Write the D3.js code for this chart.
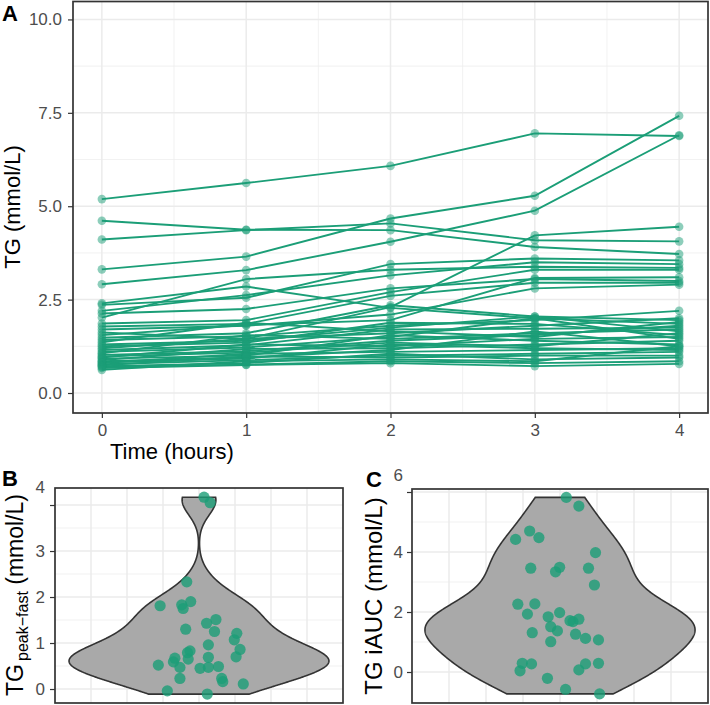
<!DOCTYPE html>
<html><head><meta charset="utf-8">
<script src="https://cdn.jsdelivr.net/npm/d3@7"></script>
<style>body{margin:0;background:#fff} text{font-family:"Liberation Sans",Arial,Helvetica,sans-serif}</style>
</head><body><svg id="c" width="710" height="705"></svg>
<script>
// ---------- data ----------
const times = [0, 1, 2, 3, 4];
const tgSubjects = [
  [5.19, 5.62, 6.08, 6.95, 6.88],
  [4.61, 4.37, 4.36, 3.91, 3.72],
  [4.11, 4.36, 4.54, 4.09, 4.06],
  [3.31, 3.65, 4.67, 5.28, 7.42],
  [2.91, 3.29, 4.05, 4.88, 6.90],
  [2.40, 2.85, 2.28, 2.00, 1.85],
  [2.36, 2.55, 3.45, 3.60, 3.55],
  [2.20, 2.62, 3.15, 3.50, 3.45],
  [2.13, 2.25, 2.80, 3.05, 3.00],
  [2.02, 3.05, 3.30, 3.38, 3.35],
  [1.86, 1.95, 2.70, 3.30, 3.30],
  [1.78, 1.85, 2.60, 2.95, 2.95],
  [1.70, 1.80, 2.10, 2.80, 2.90],
  [1.62, 1.45, 2.30, 4.22, 4.45],
  [1.55, 1.82, 1.95, 3.08, 3.10],
  [1.48, 1.60, 2.35, 2.05, 1.65],
  [1.42, 1.52, 1.80, 1.95, 2.20],
  [1.36, 1.88, 1.65, 1.50, 1.90],
  [1.30, 1.40, 1.75, 2.05, 1.95],
  [1.25, 1.35, 1.88, 1.85, 1.55],
  [1.20, 1.45, 1.60, 1.80, 2.00],
  [1.15, 1.28, 1.70, 1.72, 1.75],
  [1.10, 1.22, 1.50, 2.00, 1.45],
  [1.06, 1.55, 1.45, 1.60, 1.70],
  [1.02, 1.12, 1.40, 1.55, 1.80],
  [0.98, 1.08, 1.35, 1.25, 1.60],
  [0.95, 1.30, 1.25, 1.45, 1.50],
  [0.92, 1.00, 1.55, 1.40, 1.30],
  [0.88, 1.18, 1.20, 1.30, 1.40],
  [0.85, 0.95, 1.15, 1.65, 1.25],
  [0.82, 0.92, 1.30, 1.20, 1.15],
  [0.80, 1.05, 1.10, 1.15, 1.20],
  [0.77, 0.88, 1.00, 1.05, 1.10],
  [0.74, 0.98, 0.95, 1.00, 1.00],
  [0.72, 0.80, 1.05, 0.90, 0.95],
  [0.70, 0.76, 0.85, 0.80, 0.85],
  [0.67, 0.75, 0.80, 0.72, 0.78],
  [0.62, 0.85, 0.90, 0.85, 1.25]
];
const tgTicks = [0, 2.5, 5, 7.5, 10];
const tgMinor = [1.25, 3.75, 6.25, 8.75];
const timeMinor = [0.5, 1.5, 2.5, 3.5];

const peakFast = [4.17, 4.05, 2.33, 1.81, 1.83, 1.90, 1.75, 1.30, 1.43, 1.51, 1.25, 1.21, 1.07, 0.86, 0.70, 0.96, 0.69,
  0.83, 0.79, 0.65, 0.67, 0.59, 0.47, 0.52, 0.45, 0.47, 0.49, 0.23, 0.16, 0.23, 0.11, -0.04, -0.11];
const peakFastJitter = [0.14, 0.31, -0.34, -1.08, -0.48, -0.23, -0.44, -0.37, 0.21, 0.47, 0.43, 1.05, 0.98, 1.14, 1.03, 0.26, 0.26,
  -0.25, -0.32, -0.30, -0.67, -0.71, -0.53, -1.13, 0.03, 0.26, 0.54, 0.63, 0.66, -0.53, 1.23, -0.88, 0.23];
const peakTicks = [0, 1, 2, 3, 4];
const peakMinor = [0.5, 1.5, 2.5, 3.5];

const iauc = [5.82, 5.53, 4.42, 4.70, 4.48, 3.98, 3.46, 3.34, 3.49, 3.46, 2.90, 2.26, 1.93, 2.27, 1.84, 1.98, 1.51, 1.37,
  1.68, 1.76, 1.26, 1.12, 1.07, 1.31, 1.01, 0.29, 0.04, 0.27, 0.07, 0.27, 0.29, -0.21, -0.58, -0.73, 1.71];
const iaucJitter = [0.17, 0.51, -1.20, -0.82, -0.57, 0.96, -0.79, -0.12, -0.01, 0.77, 0.93, -1.14, -0.88, -0.68, -0.32, -0.01,
  -0.25, -0.07, 0.35, 0.51, 0.42, 0.69, 1.04, -0.75, -0.25, -1.02, -1.08, -0.77, 0.51, 0.69, 1.04, -0.34, 0.15, 1.07, 0.27];
const iaucTicks = [0, 2, 4, 6];
const iaucMinor = [1, 3, 5];
const catGrid = [-3, -2, -1, 0, 1, 2, 3];

// ---------- helpers ----------
const GREEN = "#1b9e77";
const svg = d3.select("#c");
svg.append("rect").attr("width", 710).attr("height", 705).attr("fill", "#fff");

function grid(g, xs, ys, xMaj, xMin, yMaj, yMin) {
  const [x0, x1] = xs.range(), [y0, y1] = ys.range();
  g.selectAll(null).data(yMin).enter().append("line")
    .attr("x1", x0).attr("x2", x1).attr("y1", d => ys(d)).attr("y2", d => ys(d))
    .attr("stroke", "#ededed").attr("stroke-width", 0.8);
  g.selectAll(null).data(xMin).enter().append("line")
    .attr("y1", y0).attr("y2", y1).attr("x1", d => xs(d)).attr("x2", d => xs(d))
    .attr("stroke", "#ededed").attr("stroke-width", 0.8);
  g.selectAll(null).data(yMaj).enter().append("line")
    .attr("x1", x0).attr("x2", x1).attr("y1", d => ys(d)).attr("y2", d => ys(d))
    .attr("stroke", "#ebebeb").attr("stroke-width", 1.5);
  g.selectAll(null).data(xMaj).enter().append("line")
    .attr("y1", y0).attr("y2", y1).attr("x1", d => xs(d)).attr("x2", d => xs(d))
    .attr("stroke", "#ebebeb").attr("stroke-width", 1.5);
}
function border(g, xs, ys) {
  const [x0, x1] = xs.range(), [y0, y1] = ys.range();
  g.append("rect").attr("x", x0).attr("y", y1).attr("width", x1 - x0).attr("height", y0 - y1)
    .attr("fill", "none").attr("stroke", "#333").attr("stroke-width", 1.7);
}
function styleAxis(ax) {
  ax.select(".domain").remove();
  ax.selectAll(".tick line").attr("stroke", "#333").attr("stroke-width", 1.2);
  ax.selectAll(".tick text").attr("fill", "#4d4d4d").style("font-size", "17px")
    .style("font-family", '"Liberation Sans",Arial,sans-serif');
}
function kde(values, lo, hi, n) {
  const sd = d3.deviation(values);
  const iqr = d3.quantile(values, 0.75) - d3.quantile(values, 0.25);
  const bw = 0.9 * Math.min(sd, iqr / 1.34) * Math.pow(values.length, -0.2);
  const out = [];
  for (let i = 0; i < n; i++) {
    const y = lo + (hi - lo) * i / (n - 1);
    let s = 0;
    for (const v of values) { const u = (y - v) / bw; s += Math.exp(-0.5 * u * u); }
    out.push([y, s / (values.length * bw * Math.sqrt(2 * Math.PI))]);
  }
  return out;
}
function violin(g, xs, ys, values, halfW) {
  const dens = kde(values, d3.min(values), d3.max(values), 512);
  const maxD = d3.max(dens, d => d[1]);
  const area = d3.area()
    .y(d => ys(d[0]))
    .x0(d => xs(-d[1] / maxD * halfW))
    .x1(d => xs(d[1] / maxD * halfW));
  g.append("path").attr("d", area(dens)).attr("fill", "#a9a9a9")
    .attr("stroke", "#333").attr("stroke-width", 1.6);
}

// ---------- Panel A ----------
const xA = d3.scaleLinear().domain([-0.2, 4.2]).range([73, 708]);
const yA = d3.scaleLinear().domain([-0.535, 10.48]).range([413, 1.5]);
const gA = svg.append("g");
grid(gA, xA, yA, times, timeMinor, tgTicks, tgMinor);
const line = d3.line().x((d, i) => xA(times[i])).y(d => yA(d));
gA.selectAll(".subj").data(tgSubjects).enter().append("path")
  .attr("d", line).attr("fill", "none").attr("stroke", GREEN).attr("stroke-width", 1.9);
tgSubjects.forEach(s => {
  gA.selectAll(null).data(s).enter().append("circle")
    .attr("cx", (d, i) => xA(times[i])).attr("cy", d => yA(d)).attr("r", 4.3)
    .attr("fill", GREEN).attr("fill-opacity", 0.5);
});
border(gA, xA, yA);
styleAxis(svg.append("g").attr("transform", "translate(73,0)")
  .call(d3.axisLeft(yA).tickValues(tgTicks).tickFormat(d3.format(".1f")).tickSize(5).tickPadding(6)));
styleAxis(svg.append("g").attr("transform", "translate(0,413)")
  .call(d3.axisBottom(xA).tickValues(times).tickFormat(d3.format("d")).tickSize(5).tickPadding(6)));
svg.append("text").attr("transform", "translate(20,207) rotate(-90)").attr("text-anchor", "middle")
  .style("font-size", "22px").text("TG (mmol/L)");
svg.append("text").attr("x", 110).attr("y", 459).style("font-size", "22px").text("Time (hours)");
svg.append("text").attr("x", 2).attr("y", 21).style("font-size", "22px").style("font-weight", "bold").text("A");

// ---------- Panel B ----------
const xB = d3.scaleLinear().domain([-4, 4]).range([55, 343]);
const yB = d3.scaleLinear().domain([-0.304, 4.37]).range([703, 488]);
const gB = svg.append("g");
grid(gB, xB, yB, catGrid, [], peakTicks, peakMinor);
violin(gB, xB, yB, peakFast, 3.61);
gB.selectAll(null).data(peakFast).enter().append("circle")
  .attr("cx", (d, i) => xB(peakFastJitter[i])).attr("cy", d => yB(d)).attr("r", 5.6)
  .attr("fill", GREEN).attr("fill-opacity", 0.8);
border(gB, xB, yB);
const axB = svg.append("g").attr("transform", "translate(55,0)")
  .call(d3.axisLeft(yB).tickValues(peakTicks).tickFormat(d3.format("d")).tickSize(5).tickPadding(5));
styleAxis(axB);
axB.selectAll(".tick text").filter(d => d === d3.max(peakTicks)).attr("transform", "translate(0,-18)");
const tB = svg.append("text").attr("transform", "translate(23,595) rotate(-90)").attr("text-anchor", "middle")
  .style("font-size", "23px");
tB.append("tspan").text("TG");
tB.append("tspan").attr("dy", 5).attr("dx", 3).style("font-size", "16px").text("peak\u2212fast");
tB.append("tspan").attr("dy", -5).style("font-size", "23px").text(" (mmol/L)");
svg.append("text").attr("x", 2).attr("y", 486).style("font-size", "22px").style("font-weight", "bold").text("B");

// ---------- Panel C ----------
const xC = d3.scaleLinear().domain([-4, 4]).range([412, 708]);
const yC = d3.scaleLinear().domain([-1.033, 6.1]).range([703, 489]);
const gC = svg.append("g");
grid(gC, xC, yC, catGrid, [], iaucTicks, iaucMinor);
violin(gC, xC, yC, iauc, 3.65);
gC.selectAll(null).data(iauc).enter().append("circle")
  .attr("cx", (d, i) => xC(iaucJitter[i])).attr("cy", d => yC(d)).attr("r", 5.6)
  .attr("fill", GREEN).attr("fill-opacity", 0.8);
border(gC, xC, yC);
const axC = svg.append("g").attr("transform", "translate(412,0)")
  .call(d3.axisLeft(yC).tickValues(iaucTicks).tickFormat(d3.format("d")).tickSize(5).tickPadding(4));
styleAxis(axC);
axC.selectAll(".tick text").filter(d => d === d3.max(iaucTicks)).attr("transform", "translate(0,-17)");
svg.append("text").attr("transform", "translate(382,596) rotate(-90)").attr("text-anchor", "middle")
  .style("font-size", "24px").text("TG iAUC (mmol/L)");
svg.append("text").attr("x", 366).attr("y", 487).style("font-size", "22px").style("font-weight", "bold").text("C");
</script></body></html>
